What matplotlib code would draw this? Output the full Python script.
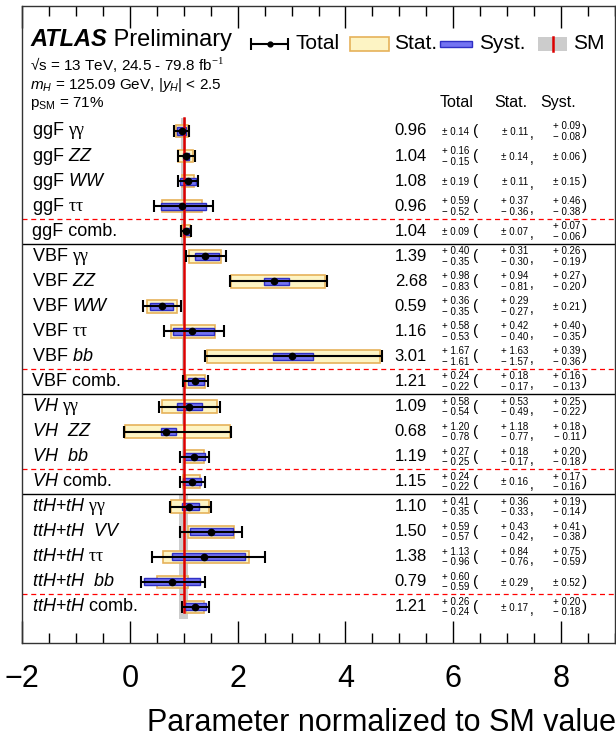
import numpy as np
import matplotlib
matplotlib.use("Agg")
import matplotlib.pyplot as plt
from matplotlib.patches import Rectangle
from matplotlib.ticker import MultipleLocator

plt.rcParams['font.family'] = ['Liberation Sans', 'DejaVu Sans']
plt.rcParams['mathtext.fontset'] = 'custom'
plt.rcParams['mathtext.rm'] = 'Liberation Serif'
plt.rcParams['mathtext.it'] = 'Liberation Sans:italic'
plt.rcParams['mathtext.sf'] = 'Liberation Sans'
plt.rcParams['mathtext.bf'] = 'Liberation Sans:bold'

# ---- data ----
labels = ["ggF $\\mathrm{\\gamma\\gamma}$", "ggF $ZZ$", "ggF $WW$", "ggF $\\mathrm{\\tau\\tau}$", "ggF comb.",
          "VBF $\\mathrm{\\gamma\\gamma}$", "VBF $ZZ$", "VBF $WW$", "VBF $\\mathrm{\\tau\\tau}$", "VBF $bb$", "VBF comb.",
          "$VH$ $\\mathrm{\\gamma\\gamma}$", "$VH$  $ZZ$", "$VH$  $bb$", "$VH$ comb.",
          "$ttH$+$tH$ $\\mathrm{\\gamma\\gamma}$", "$ttH$+$tH$  $VV$", "$ttH$+$tH$ $\\mathrm{\\tau\\tau}$",
          "$ttH$+$tH$  $bb$", "$ttH$+$tH$ comb."]
mu      = [0.96, 1.04, 1.08, 0.96, 1.04, 1.39, 2.68, 0.59, 1.16, 3.01, 1.21, 1.09, 0.68, 1.19, 1.15, 1.10, 1.50, 1.38, 0.79, 1.21]
tot_up  = [0.14, 0.16, 0.19, 0.59, 0.09, 0.40, 0.98, 0.36, 0.58, 1.67, 0.24, 0.58, 1.20, 0.27, 0.24, 0.41, 0.59, 1.13, 0.60, 0.26]
tot_dn  = [0.14, 0.15, 0.19, 0.52, 0.09, 0.35, 0.83, 0.35, 0.53, 1.61, 0.22, 0.54, 0.78, 0.25, 0.22, 0.35, 0.57, 0.96, 0.59, 0.24]
stat_up = [0.11, 0.14, 0.11, 0.37, 0.07, 0.31, 0.94, 0.29, 0.42, 1.63, 0.18, 0.53, 1.18, 0.18, 0.16, 0.36, 0.43, 0.84, 0.29, 0.17]
stat_dn = [0.11, 0.14, 0.11, 0.36, 0.07, 0.30, 0.81, 0.27, 0.40, 1.57, 0.17, 0.49, 0.77, 0.17, 0.16, 0.33, 0.42, 0.76, 0.29, 0.17]
syst_up = [0.09, 0.06, 0.15, 0.46, 0.07, 0.26, 0.27, 0.21, 0.40, 0.39, 0.16, 0.25, 0.18, 0.20, 0.17, 0.19, 0.41, 0.75, 0.52, 0.20]
syst_dn = [0.08, 0.06, 0.15, 0.38, 0.06, 0.19, 0.20, 0.21, 0.35, 0.36, 0.13, 0.22, 0.11, 0.18, 0.16, 0.14, 0.38, 0.59, 0.52, 0.18]
sm_unc  = [0.05]*5 + [0.03]*6 + [0.03]*4 + [0.08]*5
dashed_after = [3, 9, 13, 18]
solid_after = [4, 10, 14]

# ---- style ----
c_stat, c_stat_edge = '#fdf4c4', '#e6b25a'
c_syst, c_syst_edge = '#7373f2', '#2f2fc4'
c_sm, c_red = '#cccccc', '#dd0000'

W, H = 616, 742
fig = plt.figure(figsize=(W/100, H/100), dpi=100)
ax = fig.add_axes([22/W, 1-643/H, (615-22)/W, (643-6)/H])
ax.set_xlim(-2, 9)
ax.set_ylim(20.44, -4.99)

def px_x(px):
    # pixel column -> axes fraction
    return (px - 22) / (615 - 22)

def px_y(py):
    return (py - 131) / 25.05

def px_d(px):
    # pixel column -> data x
    return -2 + (px - 22) / 53.9

trans = ax.get_yaxis_transform()
rows = np.arange(len(mu))
mu = np.array(mu)

# SM band and line
for r, u in zip(rows, sm_unc):
    ax.add_patch(Rectangle((1-u, r-0.5), 2*u, 1.0, color=c_sm, lw=0, zorder=1))

ax.barh(rows, np.array(stat_up)+np.array(stat_dn), left=mu-np.array(stat_dn), height=0.5,
        color=c_stat, edgecolor=c_stat_edge, lw=1.2, zorder=2)
ax.barh(rows, np.array(syst_up)+np.array(syst_dn), left=mu-np.array(syst_dn), height=0.28,
        color=c_syst, edgecolor=c_syst_edge, lw=1.0, zorder=3)
ax.plot([1, 1], [-0.5, 19.2], color=c_red, lw=1.8, zorder=4)
ax.errorbar(mu, rows, xerr=[tot_dn, tot_up], fmt='o', color='black', ms=4.5, lw=1.5,
            capsize=4.3, capthick=1.5, zorder=5)

for r in dashed_after:
    ax.axhline(r+0.5, color='red', lw=0.9, ls=(0, (4, 3)), zorder=1)
for r in solid_after:
    ax.axhline(r+0.5, color='black', lw=1.0, zorder=1)

# row labels and numbers
def unc(x, r, up, dn):
    if up == dn:
        ax.text(px_x(x), r+0.03, "± %.2f" % up, transform=trans, ha='right', va='center', fontsize=7)
    else:
        ax.text(px_x(x), r-0.2, "+ %.2f" % up, transform=trans, ha='right', va='center', fontsize=7)
        ax.text(px_x(x), r+0.22, "− %.2f" % dn, transform=trans, ha='right', va='center', fontsize=7)

for r in rows:
    ax.text(px_x(32), r, labels[r], transform=trans, ha='left', va='center', fontsize=13)
    ax.text(px_x(427), r, "%.2f" % mu[r], transform=trans, ha='right', va='center', fontsize=12)
    unc(469, r, tot_up[r], tot_dn[r])
    unc(528, r, stat_up[r], stat_dn[r])
    unc(580, r, syst_up[r], syst_dn[r])
    ax.text(px_x(473), r, "(", transform=trans, ha='left', va='center', fontsize=11)
    ax.text(px_x(530), r+0.12, ",", transform=trans, ha='left', va='center', fontsize=10)
    ax.text(px_x(582), r, ")", transform=trans, ha='left', va='center', fontsize=11)

# header
hy = px_y(103)
for name, px in [("Total", 457), ("Stat.", 511), ("Syst.", 558)]:
    ax.text(px_x(px), hy, name, transform=trans, ha='center', va='center', fontsize=11.5)

t1 = ax.text(px_x(30), px_y(40), "ATLAS", transform=trans, ha='left', va='center',
             fontsize=17, fontweight='bold', fontstyle='italic')
ax.annotate(" Preliminary", xy=(1, 0), xycoords=t1, ha='left', va='bottom', fontsize=17)
ax.text(px_x(30), px_y(65), "√s = 13 TeV, 24.5 - 79.8 fb$^{-1}$", transform=trans,
        ha='left', va='center', fontsize=11)
ax.text(px_x(30), px_y(85), "$m_{H}$ = 125.09 GeV, |$y_{H}$| < 2.5", transform=trans,
        ha='left', va='center', fontsize=11)
ax.text(px_x(30), px_y(104), "p$_{\\mathsf{SM}}$ = 71%", transform=trans,
        ha='left', va='center', fontsize=11)

# legend
ly = px_y(44)
lx0, lx1 = px_d(251), px_d(288)
ax.errorbar([(lx0+lx1)/2], [ly], xerr=[[(lx1-lx0)/2], [(lx1-lx0)/2]], fmt='o', color='black',
            ms=3.5, lw=1.5, capsize=4, capthick=1.5)
ax.text(px_x(296), ly, "Total", transform=trans, ha='left', va='center', fontsize=15)
ax.add_patch(Rectangle((px_d(350), ly-0.28), px_d(389)-px_d(350), 0.56,
                       facecolor=c_stat, edgecolor=c_stat_edge, lw=1.2))
ax.text(px_x(394), ly, "Stat.", transform=trans, ha='left', va='center', fontsize=15)
ax.add_patch(Rectangle((px_d(440), ly-0.12), px_d(472)-px_d(440), 0.24,
                       facecolor=c_syst, edgecolor=c_syst_edge, lw=1.0))
ax.text(px_x(479), ly, "Syst.", transform=trans, ha='left', va='center', fontsize=15)
ax.add_patch(Rectangle((px_d(538), ly-0.28), px_d(567)-px_d(538), 0.56, facecolor=c_sm, lw=0))
ax.plot([px_d(553)]*2, [ly-0.28, ly+0.28], color=c_red, lw=1.8)
ax.text(px_x(573), ly, "SM", transform=trans, ha='left', va='center', fontsize=15)

# axes
ax.xaxis.set_major_locator(MultipleLocator(2))
ax.xaxis.set_minor_locator(MultipleLocator(0.5))
ax.tick_params(axis='x', which='both', direction='in', top=True, bottom=True)
ax.tick_params(axis='x', which='major', length=16, width=1.0, labelsize=22, pad=15)
ax.tick_params(axis='x', which='minor', length=7.5, width=1.0)
ax.set_yticks([])
for s in ax.spines.values():
    s.set_linewidth(1.0)
    s.set_color('#333333')

fig.text(1.0, 1 - 723/H, "Parameter normalized to SM value", ha='right', va='center', fontsize=22)

fig.savefig("out.png", dpi=100)
